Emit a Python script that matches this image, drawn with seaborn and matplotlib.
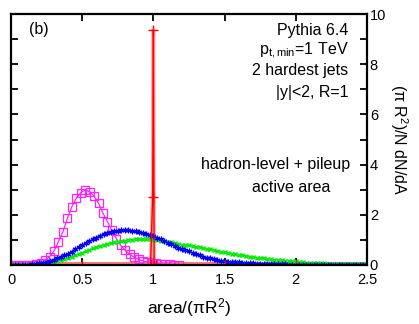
import numpy as np
import matplotlib
matplotlib.use("Agg")
import matplotlib.pyplot as plt
import seaborn as sns
from matplotlib.ticker import MultipleLocator

sns.set_style("white")
plt.rcParams["font.family"] = ["Liberation Sans", "DejaVu Sans"]
plt.rcParams["mathtext.fontset"] = "custom"
plt.rcParams["mathtext.rm"] = "Liberation Sans"
plt.rcParams["mathtext.it"] = "Liberation Sans:italic"
plt.rcParams["text.color"] = "black"
plt.rcParams["axes.labelcolor"] = "black"
plt.rcParams["xtick.color"] = "black"
plt.rcParams["ytick.color"] = "black"

# ---------------- data ----------------
area_grid = np.round(np.arange(0, 2.5001, 0.025), 3)

blue_y = [0, 0, 0, 0, 0, 0.01, 0.02, 0.04, 0.06, 0.09,
          0.13, 0.17, 0.21, 0.26, 0.32, 0.38, 0.45, 0.53, 0.62, 0.71,
          0.79, 0.87, 0.95, 1.02, 1.09, 1.16, 1.22, 1.27, 1.31, 1.35,
          1.37, 1.39, 1.40, 1.39, 1.37, 1.34, 1.31, 1.28, 1.24, 1.20,
          1.15, 1.09, 1.03, 0.96, 0.89, 0.82, 0.75, 0.69, 0.63, 0.58,
          0.54, 0.48, 0.43, 0.38, 0.33, 0.29, 0.26, 0.23, 0.20, 0.17,
          0.15, 0.13, 0.12, 0.11, 0.10, 0.09, 0.08, 0.07, 0.06, 0.055,
          0.05, 0.045, 0.04, 0.035, 0.03, 0.025, 0.02, 0.02, 0.015, 0.01,
          0.01, 0.01, 0.01, 0.01, 0.005, 0.005, 0.005, 0.005, 0, 0,
          0, 0, 0, 0, 0, 0, 0, 0, 0, 0,
          0]

green_y = [0, 0, 0, 0, 0, 0.005, 0.01, 0.02, 0.035, 0.05,
           0.07, 0.10, 0.13, 0.16, 0.20, 0.24, 0.28, 0.33, 0.38, 0.44,
           0.49, 0.55, 0.60, 0.66, 0.71, 0.76, 0.80, 0.84, 0.88, 0.91,
           0.93, 0.95, 0.97, 0.99, 1.01, 1.02, 1.03, 1.03, 1.03, 1.02,
           1.01, 0.99, 0.97, 0.95, 0.92, 0.90, 0.87, 0.84, 0.81, 0.80,
           0.78, 0.75, 0.72, 0.70, 0.68, 0.65, 0.62, 0.59, 0.56, 0.53,
           0.50, 0.47, 0.45, 0.42, 0.40, 0.38, 0.36, 0.33, 0.31, 0.29,
           0.27, 0.26, 0.24, 0.22, 0.21, 0.20, 0.18, 0.17, 0.16, 0.15,
           0.14, 0.12, 0.10, 0.09, 0.08, 0.075, 0.07, 0.065, 0.06, 0.055,
           0.05, 0.045, 0.04, 0.04, 0.035, 0.03, 0.03, 0.025, 0.025, 0.02,
           0.02]

magenta_x = [0.021, 0.052, 0.083, 0.115, 0.146, 0.177, 0.208, 0.240, 0.271, 0.302,
             0.333, 0.365, 0.396, 0.427, 0.458, 0.490, 0.521, 0.552, 0.583, 0.615,
             0.646, 0.677, 0.708, 0.740, 0.771, 0.802, 0.833, 0.865, 0.896, 0.927,
             0.958, 0.990, 1.021, 1.052, 1.083, 1.115, 1.146, 1.177]
magenta_y = [0, 0, 0, 0, 0.01, 0.03, 0.08, 0.20, 0.33, 0.56,
             0.93, 1.33, 1.86, 2.32, 2.66, 2.88, 2.99, 2.92, 2.75, 2.46,
             2.06, 1.73, 1.38, 1.05, 0.78, 0.58, 0.42, 0.31, 0.22, 0.16,
             0.12, 0.09, 0.06, 0.04, 0.03, 0.02, 0.01, 0.0]

red_x = [0.0, 0.5, 0.98, 0.995, 1.0, 1.005, 1.02, 1.5, 2.0, 2.5]
red_y = [0, 0, 0, 2.7, 9.36, 0, 0, 0, 0, 0]

black_x = [0.0, 2.5]
black_y = [0, 0]

x_ticks = [0, 0.5, 1, 1.5, 2, 2.5]
x_tick_labels = ["0", "0.5", "1", "1.5", "2", "2.5"]
y_ticks = [0, 2, 4, 6, 8, 10]

# ---------------- figure ----------------
fig = plt.figure(figsize=(4.19, 3.24), dpi=100)
ax = fig.add_axes([11/419, 1 - 265/324, 356/419, 251/324])

RED = "#ff0000"
ax.plot([0, 2.5], [0, 0], color="#ff5555", lw=4.0, solid_capstyle="butt", zorder=2)
sns.lineplot(x=red_x, y=red_y, ax=ax, color="#ff9090", lw=2.6, alpha=0.8,
             sort=False, estimator=None, zorder=3)

sns.lineplot(x=magenta_x, y=magenta_y, ax=ax, color="#ff22ff", lw=0.9,
             marker="s", markersize=5.5, markerfacecolor="none",
             markeredgecolor="#ff22ff", markeredgewidth=0.9,
             sort=False, estimator=None, zorder=4)
sns.lineplot(x=area_grid, y=green_y, ax=ax, color="#00ee00", lw=1.0,
             marker="x", markersize=3.5, markeredgewidth=1.0,
             markeredgecolor="#00ee00",
             sort=False, estimator=None, zorder=5)
sns.lineplot(x=area_grid, y=blue_y, ax=ax, color="#0000ff", lw=1.0,
             marker=(6, 2, 0), markersize=4, markeredgewidth=0.9,
             markeredgecolor="#0000ff",
             sort=False, estimator=None, zorder=6)
sns.lineplot(x=red_x, y=red_y, ax=ax, color=RED, lw=1.0,
             marker="+", markersize=7, markeredgewidth=1.0, markeredgecolor=RED,
             sort=False, estimator=None, zorder=7)
sns.lineplot(x=black_x, y=black_y, ax=ax, color="black", lw=1.0,
             sort=False, estimator=None, zorder=8)

ax.set_xlim(0, 2.5)
ax.set_ylim(0, 10)

for s in ax.spines.values():
    s.set_visible(True)
    s.set_linewidth(1.6)
    s.set_color("black")
    s.set_zorder(10)

ax.set_xticks(x_ticks)
ax.set_xticklabels(x_tick_labels)
ax.set_yticks(y_ticks)
ax.yaxis.set_minor_locator(MultipleLocator(1))
ax.tick_params(axis="x", which="both", direction="in", top=True, bottom=True,
               length=5, width=1.3, labelsize=10.5, pad=6, colors="black")
ax.tick_params(axis="y", which="both", direction="in", left=True, right=True,
               labelleft=False, labelright=True, length=5, width=1.3,
               labelsize=10.5, pad=2, colors="black")

ax.yaxis.set_label_position("right")
ax.set_ylabel("(\u03c0 R$^2$)/N dN/dA", rotation=270, fontsize=11.5, labelpad=17)
ax.set_xlabel("area/(\u03c0R$^2$)", fontsize=12.5, labelpad=6)

kw = dict(transform=ax.transAxes, fontsize=11.5, va="baseline", color="black")
ax.text(0.051, 0.919, "(b)", ha="left", **kw)
ax.text(0.947, 0.916, "Pythia 6.4", ha="right", **kw)
ax.text(0.947, 0.837, "p$_{\\mathrm{t,min}}$=1 TeV", ha="right", **kw)
ax.text(0.947, 0.757, "2 hardest jets", ha="right", **kw)
ax.text(0.947, 0.670, "|y|<2, R=1", ha="right", **kw)
ax.text(0.952, 0.382, "hadron-level + pileup", ha="right", **kw)
ax.text(0.787, 0.292, "active area", ha="center", **kw)

fig.savefig("out.png", dpi=100)
